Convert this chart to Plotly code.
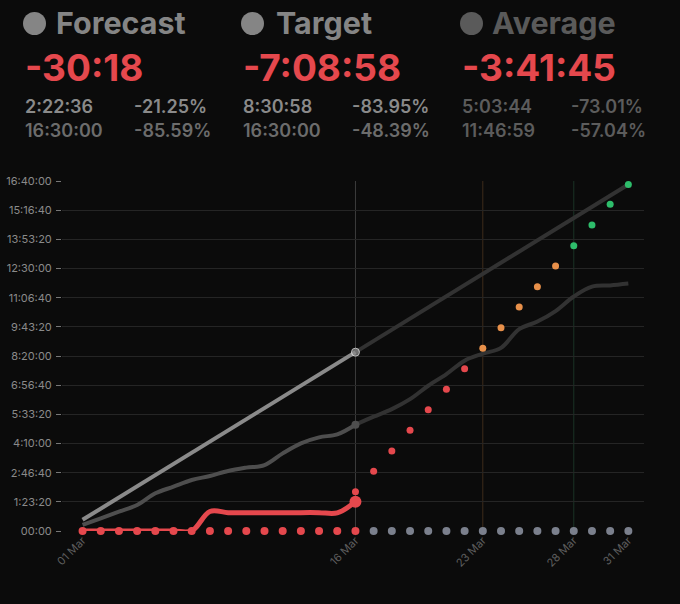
import plotly.graph_objects as go

# x axis: day of March, y axis: seconds
days = list(range(1, 32))
x_tick_days = [1, 16, 23, 28, 31]
x_tick_labels = ['01 Mar', '16 Mar', '23 Mar', '28 Mar', '31 Mar']

y_tick_vals = [0, 5000, 10000, 15000, 20000, 25000, 30000, 35000, 40000, 45000, 50000, 55000, 60000]
y_tick_labels = ['00:00', '1:23:20', '2:46:40', '4:10:00', '5:33:20', '6:56:40', '8:20:00',
                 '9:43:20', '11:06:40', '12:30:00', '13:53:20', '15:16:40', '16:40:00']

target_days = [1, 16, 31]
target_secs = [1916, 30658, 59400]

avg_past_days = list(range(1, 17))
avg_past = [1030, 2170, 3310, 4460, 6460, 7600, 8740, 9430, 10290, 10860, 11310,
            13310, 15030, 16060, 16570, 18224]
avg_future_days = list(range(16, 32))
avg_future = [18224, 19600, 20900, 22600, 24900, 26900, 29200, 30400, 31400, 34600,
              35900, 37700, 40200, 41890, 42100, 42419]

forecast_days = list(range(1, 17))
forecast = [0, 0, 0, 0, 0, 0, 0, 3350, 3150, 3150, 3150, 3150, 3150, 3150, 3100, 5030]

proj_days = list(range(16, 32))
proj = [6740, 10230, 13710, 17260, 20790, 24290, 27820, 31310, 34850, 38400,
        41880, 45430, 48910, 52460, 56000, 59400]
proj_colors = ['#e5484d'] * 7 + ['#e8904a'] * 5 + ['#2ebd6b'] * 4

zero_vals = [0] * 31
zero_colors = ['#e5484d'] * 16 + ['#7b808d'] * 15

# header texts
titles = ['Forecast', 'Target', 'Average']
big_values = ['-30:18', '-7:08:58', '-3:41:45']
row1_times = ['2:22:36', '8:30:58', '5:03:44']
row1_pcts = ['-21.25%', '-83.95%', '-73.01%']
row2_times = ['16:30:00', '16:30:00', '11:46:59']
row2_pcts = ['-85.59%', '-48.39%', '-57.04%']

RED = '#e5484d'
BG = '#0b0b0b'
W, H = 680, 604
L, R, T, B = 62, 36, 181, 73
PW, PH = W - L - R, H - T - B


def px(x):
    return (x - L) / PW


def py(y):
    return (H - B - y) / PH


fig = go.Figure()

# future parts (dark)
fig.add_trace(go.Scatter(x=target_days[1:], y=target_secs[1:], mode='lines',
                         line=dict(color='#323232', width=4), cliponaxis=False))
fig.add_trace(go.Scatter(x=avg_future_days, y=avg_future, mode='lines',
                         line=dict(color='#323232', width=4, shape='spline'), cliponaxis=False))

# projection dots
fig.add_trace(go.Scatter(x=proj_days, y=proj, mode='markers',
                         marker=dict(color=proj_colors, size=7), cliponaxis=False))

# past parts
fig.add_trace(go.Scatter(x=target_days[:2], y=target_secs[:2], mode='lines+markers',
                         line=dict(color='#8a8a8a', width=4),
                         marker=dict(size=[0, 8], color='#8a8a8a'), cliponaxis=False))
fig.add_trace(go.Scatter(x=avg_past_days, y=avg_past, mode='lines',
                         line=dict(color='#4e4e4e', width=4, shape='spline'), cliponaxis=False))
fig.add_trace(go.Scatter(x=[avg_past_days[-1]], y=[avg_past[-1]], mode='markers',
                         marker=dict(size=8, color='#4e4e4e'), cliponaxis=False))

# zero dots
fig.add_trace(go.Scatter(x=days, y=zero_vals, mode='markers',
                         marker=dict(color=zero_colors, size=8), cliponaxis=False))

# forecast line
fig.add_trace(go.Scatter(x=forecast_days, y=forecast, mode='lines',
                         line=dict(color=RED, width=5, shape='spline'), cliponaxis=False))
fig.add_trace(go.Scatter(x=[forecast_days[-1]], y=[forecast[-1]], mode='markers',
                         marker=dict(size=12, color=RED), cliponaxis=False))

# vertical marker lines
for d, c in [(16, '#3d3d3d'), (23, '#3e2c1b'), (28, '#1b3326')]:
    fig.add_shape(type='line', xref='x', yref='paper', x0=d, x1=d, y0=-0.012, y1=1,
                  line=dict(color=c, width=1), layer='below')

# header
col_x = [23, 241, 460]
pct_x = [132, 350, 569]
title_x = [54, 274, 490]
circle_x = [34.5, 252.5, 471.5]
title_cols = ['#858585', '#858585', '#5a5a5a']
row1_cols = ['#8a8a8a', '#8a8a8a', '#5c5c5c']
row2_cols = ['#6c6c6c', '#6c6c6c', '#5c5c5c']

anns = []
for i in range(3):
    fig.add_shape(type='circle', xref='paper', yref='paper', xsizemode='pixel', ysizemode='pixel',
                  xanchor=px(circle_x[i]), yanchor=py(23.5), x0=-11.5, x1=11.5, y0=-11.5, y1=11.5,
                  fillcolor=title_cols[i], line=dict(width=0))
    anns.append(dict(text=titles[i], x=px(title_x[i]), y=py(22), font=dict(size=30.5, color=title_cols[i], weight=700)))
    anns.append(dict(text=big_values[i], x=px(col_x[i]), y=py(67), font=dict(size=37, color=RED, weight=700)))
    anns.append(dict(text=row1_times[i], x=px(col_x[i]), y=py(106), font=dict(size=18, color=row1_cols[i], weight=600)))
    anns.append(dict(text=row1_pcts[i], x=px(pct_x[i]), y=py(106), font=dict(size=18, color=row1_cols[i], weight=600)))
    anns.append(dict(text=row2_times[i], x=px(col_x[i]), y=py(130.5), font=dict(size=18, color=row2_cols[i], weight=600)))
    anns.append(dict(text=row2_pcts[i], x=px(pct_x[i]), y=py(130.5), font=dict(size=18, color=row2_cols[i], weight=600)))

for a in anns:
    a.update(xref='paper', yref='paper', xanchor='left', yanchor='middle', showarrow=False,
             font=dict(family='Inter', **a['font']))
    fig.add_annotation(**a)

fig.update_layout(
    width=W, height=H,
    margin=dict(l=L, r=R, t=T, b=B),
    paper_bgcolor=BG, plot_bgcolor=BG,
    showlegend=False,
    font=dict(family='Inter'),
    xaxis=dict(range=[-0.13, 31.86], tickvals=x_tick_days, ticktext=x_tick_labels,
               tickangle=-45, showgrid=False, zeroline=False, showline=False, automargin=False,
               ticks='', tickfont=dict(size=11, color='#5e5e5e')),
    yaxis=dict(range=[0, 60000], tickvals=y_tick_vals, ticktext=y_tick_labels,
               showgrid=True, gridcolor='#252525', gridwidth=1, zeroline=False, automargin=False,
               ticks='outside', ticklen=5, tickcolor='#777777', ticklabelstandoff=2,
               tickfont=dict(size=11, color='#8a8a8a')),
)

# page itself dark and without the default body margin
fig.write_html('out.html', config={'displayModeBar': False},
               post_script="document.body.style.margin='0';document.body.style.background='#0b0b0b';")
